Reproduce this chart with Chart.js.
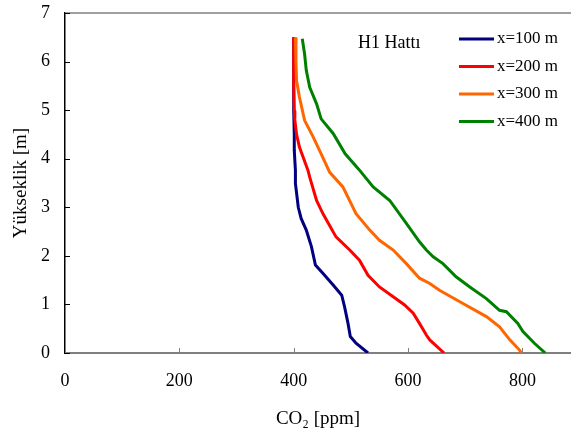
<!DOCTYPE html>
<html><head><meta charset="utf-8">
<script src="https://cdn.jsdelivr.net/npm/chart.js@4/dist/chart.umd.min.js"></script>
<style>html,body{margin:0;padding:0;background:#fff;overflow:hidden}#wrap{width:571px;height:436px;position:relative}</style>
</head><body><div id="wrap"><canvas id="c" width="571" height="436"></canvas></div>
<script>
// ---- data (height in m, CO2 in ppm) ----
const seriesLabels = ['x=100 m', 'x=200 m', 'x=300 m', 'x=400 m'];
const seriesColors = ['#000080', '#FF0000', '#FF6600', '#008000'];

const h100 = [6.5, 5.7, 5.0, 4.5, 4.17, 3.76, 3.49, 3.0, 2.77, 2.53, 2.19, 1.81, 1.64, 1.40, 1.19, 0.95, 0.61, 0.34, 0.20, 0.0];
const co2_100 = [400, 400, 400, 401, 401, 403, 403, 408, 413, 422, 431, 438, 451, 469, 484, 489, 495, 499, 509, 530];

const h200 = [6.5, 6.0, 5.5, 5.0, 4.8, 4.5, 4.24, 3.76, 3.62, 3.14, 2.87, 2.39, 2.12, 1.91, 1.60, 1.36, 1.16, 0.99, 0.82, 0.61, 0.37, 0.27, 0.0];
const co2_200 = [400, 400, 400, 401, 402, 405, 410, 425, 428, 440, 451, 474, 498, 515, 530, 550, 574, 594, 609, 620, 632, 638, 663];

const h300 = [6.5, 6.0, 5.61, 5.27, 4.79, 4.45, 4.10, 3.72, 3.42, 2.87, 2.53, 2.32, 2.12, 1.84, 1.54, 1.43, 1.29, 1.02, 0.75, 0.54, 0.27, 0.06, 0.0];
const co2_300 = [403, 404, 405, 410, 419, 434, 448, 463, 486, 509, 533, 550, 574, 597, 620, 638, 655, 696, 737, 760, 778, 795, 798];

const h400 = [6.47, 6.16, 5.82, 5.47, 5.13, 4.82, 4.52, 4.10, 3.78, 3.42, 3.14, 2.67, 2.29, 2.12, 1.98, 1.84, 1.57, 1.36, 1.12, 0.88, 0.85, 0.61, 0.44, 0.20, 0.0];
const co2_400 = [415, 419, 422, 428, 440, 448, 469, 490, 514, 539, 568, 597, 620, 632, 644, 661, 684, 708, 737, 760, 772, 792, 801, 821, 840];

const xTicks = [0, 200, 400, 600, 800];
const yTicks = [0, 1, 2, 3, 4, 5, 6, 7];
const xTitle = 'CO\u2082 [ppm]';
const yTitle = 'Yükseklik [m]';
const annotation = 'H1 Hattı';

const heights = [h100, h200, h300, h400];
const values = [co2_100, co2_200, co2_300, co2_400];

const FONT = "'Liberation Serif', 'Times New Roman', serif";

const datasets = seriesLabels.map((lab, i) => ({
  label: lab,
  data: values[i].map((v, k) => ({x: v, y: heights[i][k]})),
  borderColor: seriesColors[i],
  backgroundColor: seriesColors[i],
  borderWidth: 3,
  pointRadius: 0,
  showLine: true,
  tension: 0,
  fill: false,
  order: 4 - i
}));

const frame = {
  id: 'frame',
  afterDraw(chart) {
    const {ctx, chartArea: a, scales: {x, y}} = chart;
    ctx.save();
    // top border
    ctx.strokeStyle = '#7f7f7f';
    ctx.lineWidth = 1.5;
    ctx.beginPath();
    ctx.moveTo(a.left, a.top);
    ctx.lineTo(a.right, a.top);
    ctx.stroke();
    // x tick marks (inside)
    ctx.lineWidth = 1;
    ctx.beginPath();
    xTicks.forEach(v => {
      const px = Math.round(x.getPixelForValue(v)) + 0.5;
      ctx.moveTo(px, a.bottom);
      ctx.lineTo(px, a.bottom - 5);
    });
    ctx.stroke();
    // y tick marks (inside)
    ctx.strokeStyle = '#000';
    ctx.beginPath();
    yTicks.forEach(v => {
      const py = Math.round(y.getPixelForValue(v)) + 0.5;
      ctx.moveTo(a.left, py);
      ctx.lineTo(a.left + 5, py);
    });
    ctx.stroke();
    // annotation
    ctx.fillStyle = '#000';
    ctx.font = '18px ' + FONT;
    ctx.textBaseline = 'middle';
    ctx.textAlign = 'left';
    ctx.fillText(annotation, 358, 43);
    // legend
    ctx.font = '17px ' + FONT;
    chart.data.datasets.forEach((ds, i) => {
      const yy = 39 + i * 27.5;
      ctx.strokeStyle = ds.borderColor;
      ctx.lineWidth = 3;
      ctx.beginPath();
      ctx.moveTo(459, yy);
      ctx.lineTo(494, yy);
      ctx.stroke();
      ctx.fillStyle = '#000';
      ctx.fillText(ds.label, 497, yy);
    });
    ctx.restore();
  }
};

new Chart(document.getElementById('c'), {
  type: 'scatter',
  data: {datasets},
  plugins: [frame],
  options: {
    responsive: false,
    animation: false,
    layout: {padding: {left: 0, top: 13, right: 0, bottom: 0}},
    plugins: {legend: {display: false}, tooltip: {enabled: false}},
    scales: {
      x: {
        type: 'linear',
        min: 0, max: 885,
        afterBuildTicks: s => { s.ticks = xTicks.map(v => ({value: v})); },
        afterFit: s => { s.height = 83; s.paddingLeft = 0; s.paddingRight = 0; },
        grid: {display: false, drawTicks: false},
        border: {display: true, color: '#7f7f7f', width: 2},
        ticks: {color: '#000', padding: 17, font: {family: FONT, size: 18}, maxRotation: 0},
        title: {display: true, text: xTitle, color: '#000', font: {family: FONT, size: 19}, padding: {top: 0, bottom: 6}}
      },
      y: {
        type: 'linear',
        min: 0, max: 7,
        afterBuildTicks: s => { s.ticks = yTicks.map(v => ({value: v})); },
        afterFit: s => { s.width = 65; s.paddingTop = 0; s.paddingBottom = 0; },
        grid: {display: false, drawTicks: false},
        border: {display: true, color: '#000', width: 1.5},
        ticks: {color: '#000', padding: 15, font: {family: FONT, size: 18}},
        title: {display: true, text: yTitle, color: '#000', font: {family: FONT, size: 19}, padding: {top: 10, bottom: 0}}
      }
    }
  }
});
</script>
</body></html>
